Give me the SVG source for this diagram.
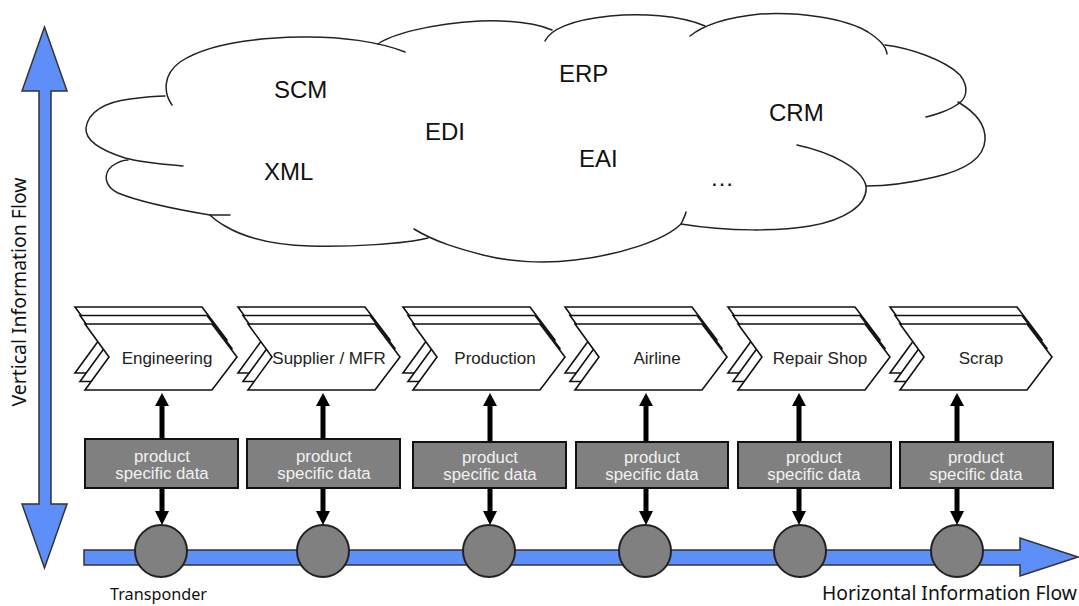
<svg xmlns="http://www.w3.org/2000/svg" width="1079" height="606" viewBox="0 0 1079 606">
<style>
.cloud{fill:none;stroke:#222;stroke-width:1.5;stroke-linecap:round}
.cl{font-family:"Liberation Sans",Arial,sans-serif;font-size:24px;fill:#111}
.chev{fill:#fff;stroke:#111;stroke-width:1.6;stroke-linejoin:miter}
.ct{font-family:"Liberation Sans",Arial,sans-serif;font-size:17px;fill:#222;text-anchor:middle}
.box{fill:#808080;stroke:#111;stroke-width:2}
.bt{font-family:"Liberation Sans",Arial,sans-serif;font-size:16.8px;fill:#f2f2f2;text-anchor:middle}
.tp{fill:#808080;stroke:#222;stroke-width:2}
.blue{fill:#5e8ef7;stroke:#333;stroke-width:1.5;stroke-linejoin:miter}
.ln{stroke:#000;stroke-width:5;fill:none}
.hd{fill:#000}
.fl{font-family:"Noto Sans","Open Sans",sans-serif;font-size:19px;fill:#111}
</style>
<defs>
<path id="chv" d="M0,0 H127 L152,33 L127,66 H0 L24,33 Z"/>
</defs>
<rect width="1079" height="606" fill="#fff"/>

<g id="cloud">
<path class="cloud" d="M172,105 C164,94 162,75 180,62 C205,45 250,38 300,37 C340,36 380,42 405,52"/>
<path class="cloud" d="M378,44 C392,34 430,24 480,21 C515,20 538,24 552,30"/>
<path class="cloud" d="M545,41 C550,30 570,20 610,16 C640,13 680,15 705,26"/>
<path class="cloud" d="M690,36 C700,28 720,18 760,14 C800,12 845,18 868,32 C880,40 886,46 887,54"/>
<path class="cloud" d="M885,45 C910,48 945,60 960,75 C970,88 966,99 958,104 C950,110 935,115 926,117"/>
<path class="cloud" d="M958,102 C975,112 986,125 985,140 C984,158 965,170 935,177 C910,183 885,186 866,186"/>
<path class="cloud" d="M797,145 C830,152 862,168 866,186 C868,205 845,220 810,226 C780,231 730,232 681,224 C683,220 685,216 686,212"/>
<path class="cloud" d="M681,224 C665,240 620,255 575,260 C545,264 510,262 483,255 C460,249 435,242 414,229"/>
<path class="cloud" d="M428,238 C405,244 350,247 310,246 C275,245 245,238 225,226 C218,222 213,218 210,215 L230,215"/>
<path class="cloud" d="M210,215 C180,210 140,202 118,193 C104,186 103,174 112,166 C118,162 124,160 128,160"/>
<path class="cloud" d="M183,166 C160,164 140,162 125,158 C100,150 85,140 86,128 C88,112 105,102 130,99 C145,97 158,96 165,96"/>
<text class="cl" x="274" y="98">SCM</text>
<text class="cl" x="559" y="82">ERP</text>
<text class="cl" x="425" y="140">EDI</text>
<text class="cl" x="769" y="121">CRM</text>
<text class="cl" x="264" y="180">XML</text>
<text class="cl" x="579" y="167">EAI</text>
<text class="cl" x="710" y="186">…</text>
</g>

<g id="vertical-flow">
<path class="blue" d="M39,91 H22 L44.5,27 L67,91 H51 V504 H67 L44.5,568 L22,504 H39 Z"/>
<text class="fl" transform="translate(26,292) rotate(-90)" text-anchor="middle" textLength="229" lengthAdjust="spacingAndGlyphs">Vertical Information Flow</text>
</g>

<g id="horizontal-flow">
<path class="blue" d="M84,550 H1020 V538 L1078,557 L1020,576 V565 H84 Z"/>
<text class="fl" x="822" y="600" textLength="255" lengthAdjust="spacingAndGlyphs">Horizontal Information Flow</text>
</g>

<g id="stage-engineering">
<use href="#chv" class="chev" transform="translate(75,307)"/>
<use href="#chv" class="chev" transform="translate(80,315.5)"/>
<use href="#chv" class="chev" transform="translate(85,324)"/>
<text class="ct" x="167" y="364">Engineering</text>
</g>
<g id="stage-supplier">
<use href="#chv" class="chev" transform="translate(238,307)"/>
<use href="#chv" class="chev" transform="translate(243,315.5)"/>
<use href="#chv" class="chev" transform="translate(248,324)"/>
<text class="ct" x="329" y="364">Supplier / MFR</text>
</g>
<g id="stage-production">
<use href="#chv" class="chev" transform="translate(403,307)"/>
<use href="#chv" class="chev" transform="translate(408,315.5)"/>
<use href="#chv" class="chev" transform="translate(413,324)"/>
<text class="ct" x="495" y="364">Production</text>
</g>
<g id="stage-airline">
<use href="#chv" class="chev" transform="translate(565,307)"/>
<use href="#chv" class="chev" transform="translate(570,315.5)"/>
<use href="#chv" class="chev" transform="translate(575,324)"/>
<text class="ct" x="657" y="364">Airline</text>
</g>
<g id="stage-repair">
<use href="#chv" class="chev" transform="translate(728,307)"/>
<use href="#chv" class="chev" transform="translate(733,315.5)"/>
<use href="#chv" class="chev" transform="translate(738,324)"/>
<text class="ct" x="820" y="364">Repair Shop</text>
</g>
<g id="stage-scrap">
<use href="#chv" class="chev" transform="translate(890,307)"/>
<use href="#chv" class="chev" transform="translate(895,315.5)"/>
<use href="#chv" class="chev" transform="translate(900,324)"/>
<text class="ct" x="981" y="364">Scrap</text>
</g>

<g id="connectors">
<path class="ln" d="M162,439 V404 M162,488 V513"/>
<path class="hd" d="M155,406 L162,393 L169,406 Z M155,511 L162,525 L169,511 Z"/>
<path class="ln" d="M323,439 V404 M323,488 V513"/>
<path class="hd" d="M316,406 L323,393 L330,406 Z M316,511 L323,525 L330,511 Z"/>
<path class="ln" d="M490,442 V404 M490,488 V513"/>
<path class="hd" d="M483,406 L490,393 L497,406 Z M483,511 L490,525 L497,511 Z"/>
<path class="ln" d="M646,442 V404 M646,488 V513"/>
<path class="hd" d="M639,406 L646,393 L653,406 Z M639,511 L646,525 L653,511 Z"/>
<path class="ln" d="M799,442 V404 M799,488 V513"/>
<path class="hd" d="M792,406 L799,393 L806,406 Z M792,511 L799,525 L806,511 Z"/>
<path class="ln" d="M957,442 V404 M957,488 V513"/>
<path class="hd" d="M950,406 L957,393 L964,406 Z M950,511 L957,525 L964,511 Z"/>
</g>

<g id="data-1"><rect class="box" x="85" y="439" width="153" height="49"/><text class="bt" x="162" y="462">product</text><text class="bt" x="162" y="479">specific data</text></g>
<g id="data-2"><rect class="box" x="247" y="439" width="153" height="49"/><text class="bt" x="324" y="462">product</text><text class="bt" x="324" y="479">specific data</text></g>
<g id="data-3"><rect class="box" x="413" y="442" width="153" height="46"/><text class="bt" x="490" y="463">product</text><text class="bt" x="490" y="480">specific data</text></g>
<g id="data-4"><rect class="box" x="576" y="442" width="152" height="46"/><text class="bt" x="652" y="463">product</text><text class="bt" x="652" y="480">specific data</text></g>
<g id="data-5"><rect class="box" x="738" y="442" width="153" height="46"/><text class="bt" x="814" y="463">product</text><text class="bt" x="814" y="480">specific data</text></g>
<g id="data-6"><rect class="box" x="900" y="442" width="153" height="46"/><text class="bt" x="976" y="463">product</text><text class="bt" x="976" y="480">specific data</text></g>

<g id="transponders">
<circle class="tp" cx="161" cy="551" r="26"/>
<circle class="tp" cx="323" cy="551" r="26"/>
<circle class="tp" cx="489" cy="551" r="26"/>
<circle class="tp" cx="645" cy="551" r="26"/>
<circle class="tp" cx="800" cy="551" r="26"/>
<circle class="tp" cx="957" cy="551" r="26"/>
<text class="fl" x="110" y="600" style="font-size:16px" textLength="97" lengthAdjust="spacingAndGlyphs">Transponder</text>
</g>
</svg>
